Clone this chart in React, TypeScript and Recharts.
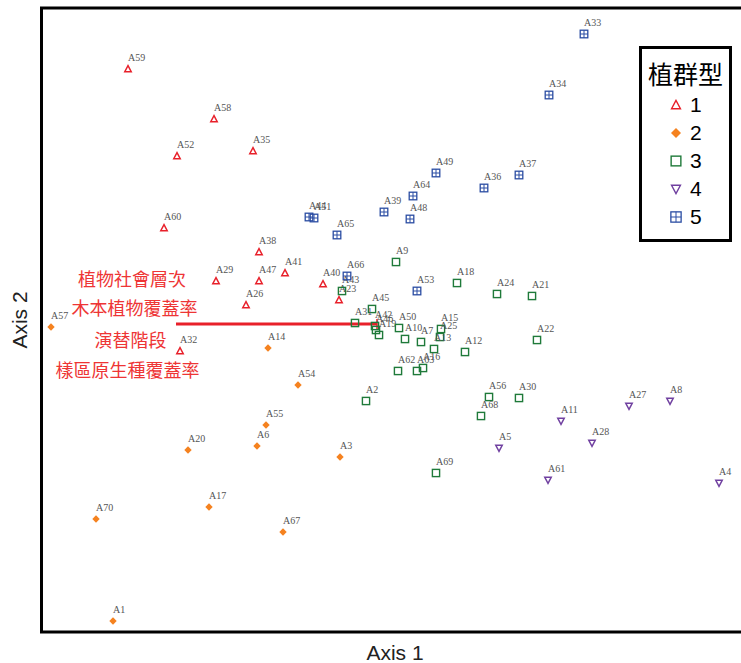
import {
  ScatterChart,
  Scatter,
  XAxis,
  YAxis,
  ReferenceArea,
  ReferenceLine,
  ReferenceDot,
  Legend,
} from "recharts";

// ordination scores (Axis 1 = x, Axis 2 = y)
const g1Names = ["A59", "A58", "A52", "A35", "A60", "A38", "A29", "A47", "A41", "A26", "A40", "A23", "A32"];
const g1X = [0.88, 1.74, 1.37, 2.13, 1.24, 2.19, 1.76, 2.19, 2.45, 2.06, 2.83, 2.99, 1.4];
const g1Y = [5.63, 5.13, 4.76, 4.81, 4.04, 3.8, 3.51, 3.51, 3.59, 3.27, 3.48, 3.32, 2.81];

const g2Names = ["A57", "A14", "A54", "A55", "A6", "A20", "A3", "A17", "A70", "A67", "A1"];
const g2X = [0.11, 2.28, 2.58, 2.26, 2.17, 1.48, 3.0, 1.69, 0.56, 2.43, 0.73];
const g2Y = [3.05, 2.84, 2.47, 2.07, 1.86, 1.82, 1.75, 1.25, 1.13, 1.0, 0.11];

const g3Names = ["A43", "A9", "A18", "A24", "A21", "A45", "A31", "A42", "A46", "A19", "A50", "A10", "A7", "A15", "A25", "A13", "A12", "A22", "A62", "A63", "A16", "A2", "A56", "A30", "A68", "A69"];
const g3X = [3.02, 3.56, 4.17, 4.57, 4.92, 3.32, 3.15, 3.35, 3.36, 3.39, 3.59, 3.65, 3.81, 4.01, 4.0, 3.94, 4.25, 4.97, 3.58, 3.77, 3.83, 3.26, 4.49, 4.79, 4.41, 3.96];
const g3Y = [3.41, 3.7, 3.49, 3.38, 3.36, 3.23, 3.09, 3.06, 3.02, 2.97, 3.04, 2.93, 2.9, 3.03, 2.95, 2.83, 2.8, 2.92, 2.61, 2.61, 2.64, 2.31, 2.35, 2.34, 2.16, 1.59];

const g4Names = ["A27", "A8", "A11", "A28", "A5", "A61", "A4"];
const g4X = [5.89, 6.3, 5.21, 5.52, 4.59, 5.08, 6.79];
const g4Y = [2.26, 2.31, 2.11, 1.89, 1.84, 1.52, 1.49];

const g5Names = ["A33", "A34", "A37", "A36", "A49", "A64", "A39", "A48", "A44", "A51", "A65", "A66", "A53"];
const g5X = [5.44, 5.09, 4.79, 4.44, 3.96, 3.73, 3.44, 3.7, 2.69, 2.74, 2.97, 3.07, 3.77];
const g5Y = [5.98, 5.37, 4.57, 4.44, 4.59, 4.36, 4.2, 4.13, 4.15, 4.14, 3.97, 3.56, 3.41];

const groupLabels = ["1", "2", "3", "4", "5"];
const envLabels = ["植物社會層次", "木本植物覆蓋率", "演替階段", "樣區原生種覆蓋率"];

// the one drawn vector
const vecFrom = { x: 1.36, y: 3.08 };
const vecTo = { x: 3.37, y: 3.08 };

const RED = "#e8202a";
const kinds = ["tri", "dia", "sq", "dtri", "sqx"];
const colors = [RED, "#f5821f", "#1f7a3a", "#7040a0", "#2b4da3"];

const build = (names: string[], xs: number[], ys: number[]) =>
  names.map((name, i) => ({ name, x: xs[i], y: ys[i] }));

const groups = [
  build(g1Names, g1X, g1Y),
  build(g2Names, g2X, g2Y),
  build(g3Names, g3X, g3Y),
  build(g4Names, g4X, g4Y),
  build(g5Names, g5X, g5Y),
];

// where the red variable names sit (data units)
const envPos = [
  { x: 0.92, y: 3.52 },
  { x: 0.945, y: 3.23 },
  { x: 0.905, y: 2.91 },
  { x: 0.875, y: 2.61 },
];

function marker(kind: string, cx: number, cy: number, color: string, s = 1) {
  switch (kind) {
    case "tri":
      return (
        <polygon
          points={`${cx},${cy - 3.4 * s} ${cx - 3.3 * s},${cy + 2.8 * s} ${cx + 3.3 * s},${cy + 2.8 * s}`}
          fill="none"
          stroke={color}
          strokeWidth={1.4}
        />
      );
    case "dia":
      return (
        <polygon
          points={`${cx},${cy - 3.7 * s} ${cx + 3.7 * s},${cy} ${cx},${cy + 3.7 * s} ${cx - 3.7 * s},${cy}`}
          fill={color}
        />
      );
    case "sq":
      return (
        <rect x={cx - 3.6 * s} y={cy - 3.6 * s} width={7.2 * s} height={7.2 * s} fill="none" stroke={color} strokeWidth={1.4} />
      );
    case "dtri":
      return (
        <polygon
          points={`${cx},${cy + 3.4 * s} ${cx - 3.3 * s},${cy - 2.8 * s} ${cx + 3.3 * s},${cy - 2.8 * s}`}
          fill="none"
          stroke={color}
          strokeWidth={1.4}
        />
      );
    default:
      return (
        <g stroke={color} fill="none">
          <rect x={cx - 3.8 * s} y={cy - 3.8 * s} width={7.6 * s} height={7.6 * s} strokeWidth={1.3} />
          <line x1={cx - 3.8 * s} x2={cx + 3.8 * s} y1={cy} y2={cy} strokeWidth={1} />
          <line x1={cx} x2={cx} y1={cy - 3.8 * s} y2={cy + 3.8 * s} strokeWidth={1} />
        </g>
      );
  }
}

const makeShape = (kind: string, color: string) => (props: any) => {
  const { cx, cy, payload } = props;
  return (
    <g>
      {marker(kind, cx, cy, color)}
      <text x={cx} y={cy - 8} fontSize={10} fontFamily="Liberation Serif" fill="#555">
        {payload.name}
      </text>
    </g>
  );
};

function LegendBox() {
  return (
    <div
      style={{
        boxSizing: "border-box",
        width: 93,
        height: 196,
        border: "3px solid #000",
        background: "#fff",
        color: "#000",
      }}
    >
      <div
        style={{
          marginTop: 9,
          height: 30,
          lineHeight: "30px",
          textAlign: "center",
          fontSize: 25,
          fontFamily: "Noto Sans CJK TC",
        }}
      >
        植群型
      </div>
      <div style={{ marginTop: 3 }}>
        {groupLabels.map((g, i) => (
          <div key={g} style={{ display: "flex", alignItems: "center", height: 28, paddingLeft: 28 }}>
            <svg width={12} height={12}>
              {marker(kinds[i], 6, 6, colors[i], 1.35)}
            </svg>
            <span style={{ marginLeft: 8, fontSize: 21, lineHeight: "28px", fontFamily: "Liberation Sans" }}>{g}</span>
          </div>
        ))}
      </div>
    </div>
  );
}

export default function App() {
  return (
    <div style={{ position: "absolute", left: 0, top: 0, width: 741, height: 663, overflow: "hidden", background: "#fff" }}>
      <ScatterChart width={759} height={663} margin={{ top: 8, right: 10.5, bottom: 0, left: 0 }}>
        <XAxis
          type="number"
          dataKey="x"
          domain={[0.015, 7.085]}
          allowDataOverflow
          height={31}
          axisLine={false}
          tickLine={false}
          tick={false}
          label={{
            value: "Axis 1",
            position: "insideBottom",
            offset: 3,
            fontSize: 21,
            fontFamily: "Liberation Sans",
            fill: "#222",
          }}
        />
        <YAxis
          type="number"
          dataKey="y"
          domain={[0, 6.24]}
          allowDataOverflow
          width={41.5}
          axisLine={false}
          tickLine={false}
          tick={false}
          label={{
            value: "Axis 2",
            angle: -90,
            position: "insideLeft",
            offset: 20,
            fontSize: 21,
            fontFamily: "Liberation Sans",
            fill: "#222",
            style: { textAnchor: "middle" },
          }}
        />
        <ReferenceArea
          x1={0.015}
          x2={7.085}
          y1={0}
          y2={6.24}
          fill="none"
          stroke="#000"
          strokeWidth={3}
          ifOverflow="visible"
        />
        {envLabels.map((t, i) => (
          <ReferenceDot
            key={t}
            x={envPos[i].x}
            y={envPos[i].y}
            r={0}
            stroke="none"
            fill="none"
            label={{ value: t, position: "center", fontSize: 18, fontFamily: "Noto Sans CJK TC", fill: "#ee3535" }}
          />
        ))}
        <ReferenceLine segment={[vecFrom, vecTo]} stroke={RED} strokeWidth={3} />
        <ReferenceLine
          segment={[
            { x: vecTo.x, y: vecTo.y - 0.05 },
            { x: vecTo.x, y: vecTo.y + 0.05 },
          ]}
          stroke={RED}
          strokeWidth={1.5}
        />
        {groups.map((data, i) => (
          <Scatter
            key={groupLabels[i]}
            name={groupLabels[i]}
            data={data}
            shape={makeShape(kinds[i], colors[i])}
            isAnimationActive={false}
          />
        ))}
        <Legend
          layout="horizontal"
          verticalAlign="middle"
          align="center"
          wrapperStyle={{ left: 639, top: 46, width: 93, height: 196 }}
          content={() => <LegendBox />}
        />
      </ScatterChart>
    </div>
  );
}
